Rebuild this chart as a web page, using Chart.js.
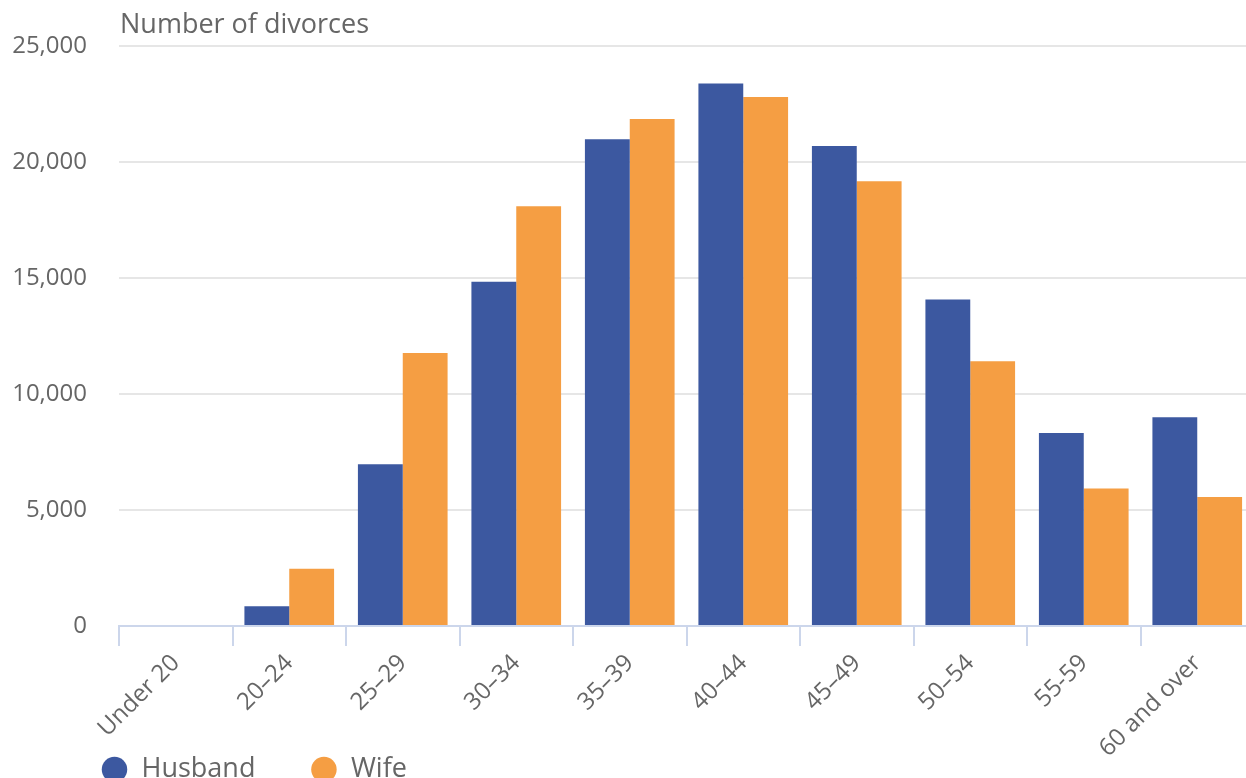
<!DOCTYPE html>
<html>
<head>
<meta charset="utf-8">
<script src="https://cdn.jsdelivr.net/npm/chart.js@4.4.0/dist/chart.umd.min.js"></script>
<style>
  html, body { margin: 0; padding: 0; background: #fff; overflow: hidden; }
  #wrap { position: absolute; left: 0; top: 0; width: 1254px; height: 830px; }
</style>
</head>
<body>
<div id="wrap"><canvas id="divorceChart"></canvas></div>
<script>
const ageGroups = ['Under 20', '20–24', '25–29', '30–34', '35–39', '40–44', '45–49', '50–54', '55-59', '60 and over'];
const husbandCounts = [0, 850, 6980, 14850, 21000, 23400, 20700, 14080, 8330, 9000];
const wifeCounts = [0, 2470, 11780, 18110, 21870, 22820, 19180, 11420, 5930, 5560];
const yTitle = 'Number of divorces';

const fontFamily = '"Open Sans", "Noto Sans", sans-serif';

// y axis title sits above the plot, left aligned with the chart area
const yTitlePlugin = {
    id: 'yTitle',
    afterDraw(chart) {
        const ctx = chart.ctx;
        ctx.save();
        ctx.font = '27px ' + fontFamily;
        ctx.fillStyle = '#666666';
        ctx.textBaseline = 'alphabetic';
        ctx.textAlign = 'left';
        ctx.fillText(yTitle, chart.chartArea.left + 1, 33);
        ctx.restore();
    }
};

// the legend sits under the rotated labels, a bit indented
const legendPlace = {
    id: 'legendPlace',
    afterLayout(chart) {
        chart.legend.left = 46;
        chart.legend.top = 701;
    }
};

const ctx = document.getElementById('divorceChart').getContext('2d');

const divorceChart = new Chart(ctx, {
    type: 'bar',
    data: {
        labels: ageGroups,
        datasets: [{
            label: 'Husband',
            data: husbandCounts,
            backgroundColor: '#3c58a0',
            borderWidth: 0,
        }, {
            label: 'Wife',
            data: wifeCounts,
            backgroundColor: '#f59e43',
            borderWidth: 0,
        }]
    },
    options: {
        responsive: true,
        maintainAspectRatio: false,
        animation: false,
        categoryPercentage: 0.79,
        barPercentage: 1.0,
        layout: { padding: { left: 0, top: 39, right: 0, bottom: 0 } },
        plugins: {
            tooltip: { enabled: false },
            title: { display: false },
            legend: {
                position: 'bottom',
                align: 'start',
                maxHeight: 30,
                labels: {
                    usePointStyle: true,
                    pointStyle: 'circle',
                    boxWidth: 27,
                    boxHeight: 18,
                    padding: 55,
                    color: '#666666',
                    font: { family: fontFamily, size: 27 }
                }
            }
        },
        scales: {
            x: {
                afterFit(scale) { scale.height = 174; },
                grid: {
                    display: true,
                    drawOnChartArea: false,
                    drawTicks: true,
                    tickLength: 20,
                    color: '#ccd6eb',
                    lineWidth: 2,
                },
                border: { display: true, color: '#ccd6eb', width: 2 },
                ticks: {
                    minRotation: 45,
                    maxRotation: 45,
                    autoSkip: false,
                    padding: 3,
                    color: '#666666',
                    font: { family: fontFamily, size: 24 }
                }
            },
            y: {
                min: 0,
                max: 25000,
                afterFit(scale) { scale.width = 119; },
                grid: {
                    color: '#e6e6e6',
                    lineWidth: 2,
                    drawTicks: false,
                },
                border: { display: false },
                ticks: {
                    stepSize: 5000,
                    padding: 32,
                    color: '#666666',
                    font: { family: fontFamily, size: 24 },
                    callback: value => value.toLocaleString('en-US')
                }
            }
        }
    },
    plugins: [yTitlePlugin, legendPlace]
});
</script>
</body>
</html>
